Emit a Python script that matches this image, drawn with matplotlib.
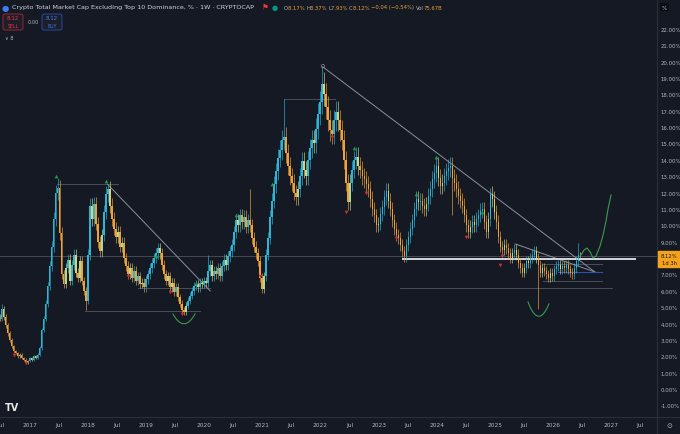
import numpy as np
import matplotlib
matplotlib.use("Agg")
import matplotlib.pyplot as plt
import matplotlib.patches as mpatches
from matplotlib.lines import Line2D

# closes (%), evenly spaced from mid 2016 to mid 2026
closes = [
    4.3, 4.9, 4.4, 3.9, 3.4, 3.0, 2.6, 2.3, 2.2, 2.0,
    2.1, 1.9, 1.8, 1.6, 1.7, 1.9, 1.8, 2.0, 1.9, 2.1,
    2.5, 3.6, 4.3, 5.2, 6.3, 7.5, 8.7, 10.4, 12.0, 12.3,
    9.5, 7.0, 6.4, 7.4, 7.9, 6.6, 7.6, 8.2, 7.1, 6.8,
    7.8, 6.6, 6.0, 5.4, 8.2, 11.2, 10.4, 11.3, 10.1, 9.0,
    8.4, 9.4, 10.8, 11.9, 12.2, 11.2, 10.4, 9.8, 9.3, 9.6,
    8.7, 8.9, 8.0, 7.5, 7.0, 7.4, 6.8, 7.2, 6.6, 6.9,
    6.4, 6.5, 6.2, 6.7, 7.0, 7.4, 7.7, 8.0, 8.3, 8.6,
    8.3, 7.6, 7.0, 6.6, 6.9, 6.2, 6.5, 5.9, 6.2, 5.6,
    5.2, 4.8, 4.7, 5.1, 5.4, 5.7, 6.0, 6.3, 6.4, 6.2,
    6.5, 6.4, 6.6, 6.5, 7.2, 7.6, 6.9, 7.2, 7.0, 7.4,
    6.9, 7.5, 7.9, 7.6, 8.1, 8.4, 8.8, 9.6, 10.3, 10.0,
    10.6, 10.2, 10.5, 9.9, 10.3, 10.0, 9.2, 8.7, 8.3, 7.8,
    6.8, 6.1, 6.9, 8.2, 9.2, 10.5, 11.5, 12.5, 13.3, 14.1,
    14.6, 15.2, 15.4, 14.4, 13.6, 13.0, 12.6, 12.0, 11.7, 12.2,
    13.0, 13.9, 13.4, 13.0, 14.0, 14.7, 15.2, 15.0, 15.9, 16.8,
    17.5, 18.6, 18.0, 17.2, 16.4, 15.8, 15.6, 16.4, 16.9, 16.4,
    15.8, 15.2, 14.0, 12.6, 11.4, 12.6, 13.4, 14.0, 14.2, 13.6,
    13.4, 13.0, 12.8, 12.5, 12.2, 11.6, 11.0, 10.6, 10.0, 10.1,
    10.7, 11.1, 11.7, 12.1, 11.5, 11.0, 10.3, 9.8, 9.4, 9.2,
    8.8, 8.4, 8.1, 8.8, 9.3, 9.8, 10.3, 11.0, 11.6, 11.4,
    11.5, 11.2, 11.0, 11.3, 11.8, 12.2, 12.8, 13.2, 13.6, 12.9,
    12.4, 12.6, 13.0, 13.3, 13.5, 13.6, 12.9, 12.6, 12.2, 11.8,
    11.5, 11.2, 10.6, 10.0, 9.6, 9.9, 10.2, 10.0, 10.4, 10.6,
    10.9, 11.0, 10.2, 9.6, 10.4, 11.9, 11.6, 10.8, 10.2, 9.3,
    8.7, 8.5, 8.8, 8.6, 8.3, 8.0, 8.3, 8.5, 8.2, 7.7,
    7.4, 7.1, 7.4, 7.8, 7.7, 8.0, 8.2, 8.4, 8.0, 7.6,
    7.1, 7.4, 7.2, 7.0, 6.8, 7.1, 6.9, 7.3, 7.5, 7.6,
    7.3, 7.5, 7.4, 7.6, 7.3, 7.1, 7.0, 7.4, 7.8, 8.16,
    8.12,
]
first_year = 2016.48
last_year = 2026.47
first_open = 4.4
last_open = 8.17

# wicks that stick out far from the body
wick_high = {1: 5.2, 29: 12.9, 54: 12.5, 104: 8.2, 125: 12.2, 142: 17.7,
             161: 19.7, 245: 12.3, 289: 8.9, 290: 8.37}
wick_low = {43: 4.8, 226: 10.6, 269: 4.9, 290: 7.93}

# little high / low signals (candle index, value)
green_idx = [28, 53, 78, 98, 118, 136, 177, 208, 218, 241]
green_val = [13.0, 12.7, 8.1, 6.5, 10.6, 12.5, 14.7, 11.9, 14.2, 10.8]
red_idx = [7, 13, 64, 85, 91, 130, 166, 173, 183, 198, 233, 250, 251]
red_val = [2.1, 1.6, 6.9, 5.9, 4.6, 6.9, 15.4, 10.8, 12.0, 9.2, 9.3, 7.6, 8.1]

# drawn lines (year0, value0, year1, value1)
gray_lines = [
    (2017.47, 12.52, 2018.51, 12.52),
    (2017.95, 4.76, 2019.93, 4.76),
    (2018.86, 6.17, 2020.10, 6.17),
    (2021.37, 17.72, 2022.25, 17.72),
    (2023.37, 6.17, 2027.02, 6.17),
    (2025.83, 7.64, 2026.84, 7.64),
    (2025.83, 6.60, 2026.84, 6.60),
]
trend_lines = [
    (2018.33, 12.52, 2020.10, 5.99),
    (2022.04, 19.67, 2026.72, 7.15),
    (2025.35, 8.86, 2026.72, 7.15),
]
blue_line = (2026.09, 7.15, 2026.84, 7.15)
support_line = (2023.42, 7.94, 2027.41, 7.94)

# projected path
proj_years = [2026.47, 2026.535, 2026.586, 2026.638, 2026.69, 2026.741,
              2026.81, 2026.862, 2026.913, 2026.948, 2026.999]
proj_vals = [8.12, 8.49, 8.61, 8.37, 8.0, 8.12, 8.74, 9.41, 10.26, 11.0, 11.85]
arc1_years = [2019.46, 2019.55, 2019.63, 2019.74, 2019.84]
arc1_vals = [4.58, 4.15, 3.97, 4.15, 4.58]
arc2_years = [2025.57, 2025.66, 2025.76, 2025.85, 2025.93]
arc2_vals = [5.31, 4.7, 4.40, 4.7, 5.19]

year_ticks = list(range(2017, 2028))

BG = "#151924"
TXT = "#b2b5be"
W, H = 680, 435


def fx(px):
    return px / W


def fy(py):
    return 1 - py / H


fig = plt.figure(figsize=(6.8, 4.35), dpi=100, facecolor=BG)
ax = fig.add_axes([0, fy(418), fx(657), 418 / H])
ax.set_facecolor(BG)
for s in ax.spines.values():
    s.set_visible(False)
ax.set_xlim(2016.483, 2027.79)
ax.set_ylim(-1.71, 23.82)

# candles
n = len(closes)
xs = np.linspace(first_year, last_year, n)
opens = [first_open] + closes[:-1]
opens[-1] = last_open
step = xs[1] - xs[0]
cols = []
highs, lows = [], []
for i in range(n):
    o, c = opens[i], closes[i]
    ref = closes[max(i - 3, 0)]
    if c >= o:
        col = "#29b6d8" if c >= ref else "#a9d9a4"
    else:
        col = "#e2cf6e" if c >= ref else "#f2a234"
    cols.append(col)
    highs.append(wick_high.get(i, max(o, c) * 1.04))
    lows.append(wick_low.get(i, min(o, c) * 0.96))
bodies = [c - o if abs(c - o) > 0.04 else 0.04 for o, c in zip(opens, closes)]
ax.vlines(xs, lows, highs, colors=cols, lw=0.45, zorder=3)
ax.bar(xs, bodies, bottom=opens, width=step * 0.62, color=cols, lw=0, zorder=4)

# signals
ax.scatter(xs[green_idx], green_val, s=7, marker="^", color="#1f9d4a", lw=0, zorder=5)
ax.scatter(xs[red_idx], red_val, s=7, marker="v", color="#d32f2f", lw=0, zorder=5)
ax.scatter([2022.04], [19.72], s=6, facecolor="none", edgecolor="#8a8d96", lw=0.5, zorder=5)

# drawings
for x0, y0, x1, y1 in gray_lines:
    ax.plot([x0, x1], [y0, y1], color="#4a4e59", lw=0.7, zorder=2)
for x0, y0, x1, y1 in trend_lines:
    ax.plot([x0, x1], [y0, y1], color="#8d9099", lw=0.7, zorder=2)
ax.plot(blue_line[::2], blue_line[1::2], color="#2f4fb0", lw=0.8, zorder=2)
ax.plot(support_line[::2], support_line[1::2], color="#d6d7db", lw=1.4, zorder=2)
ax.axhline(closes[-1], color="#4d515c", lw=0.6, zorder=1)

ax.plot(proj_years, proj_vals, color="#3d9a52", lw=0.8, zorder=5)
for yrs, vals in [(arc1_years, arc1_vals), (arc2_years, arc2_vals)]:
    p = np.polyfit(yrs, vals, 2)
    tt = np.linspace(yrs[0], yrs[-1], 40)
    ax.plot(tt, np.polyval(p, tt), color="#3d9a52", lw=0.8, zorder=5)

# axes
ax.yaxis.tick_right()
ax.set_yticks(range(-1, 23))
ax.set_yticklabels([f"{v:.2f}%" for v in range(-1, 23)])
ax.tick_params(axis="y", length=0, pad=2.5, labelsize=3.9, colors=TXT)
xt, xl = [], []
for y in range(2016, 2028):
    if y in year_ticks:
        xt.append(y)
        xl.append(str(y))
    xt.append(y + 0.496)
    xl.append("Jul")
ax.set_xticks(xt)
ax.set_xticklabels(xl)
ax.tick_params(axis="x", length=0, pad=3.5, labelsize=4.2, colors=TXT)

fig.add_artist(Line2D([0, 1], [fy(418)] * 2, color="#2a2e39", lw=0.8))
fig.add_artist(Line2D([fx(657)] * 2, [0, 1], color="#2a2e39", lw=0.8))

# price label
fig.add_artist(mpatches.Rectangle((fx(658), fy(268)), fx(22), 16 / H,
                                  color="#f4a21c", transform=fig.transFigure, zorder=10))
fig.text(fx(669), fy(256), "8.12%", fontsize=3.8, color="#131722", ha="center", va="center", zorder=11)
fig.text(fx(669), fy(263.5), "1d 3h", fontsize=3.8, color="#131722", ha="center", va="center", zorder=11)

# header
fig.text(fx(2), fy(8), "●", fontsize=6, color="#3d7bf5", va="center")
fig.text(fx(12), fy(8), "Crypto Total Market Cap Excluding Top 10 Dominance, % · 1W · CRYPTOCAP",
         fontsize=4.6, color="#d1d4dc", va="center")
fig.text(fx(262), fy(8), "⚑", fontsize=5.5, color="#f23645", va="center")
fig.text(fx(272), fy(8), "●", fontsize=5, color="#089981", va="center")

renderer = fig.canvas.get_renderer()
x = fx(284)
ORG = "#e3a23a"
for s, c in [("O", TXT), ("8.17% ", ORG), ("H", TXT), ("8.37% ", ORG), ("L", TXT),
             ("7.93% ", ORG), ("C", TXT), ("8.12% ", ORG), ("−0.04 (−0.54%) ", ORG),
             ("Vol", TXT), ("75.67B", ORG)]:
    t = fig.text(x, fy(8), s, fontsize=3.8, color=c, va="center")
    x += t.get_window_extent(renderer=renderer).width / fig.bbox.width

# sell / buy buttons
fig.add_artist(mpatches.FancyBboxPatch((fx(3), fy(31)), fx(20), 16 / H,
                                       boxstyle="round,pad=0,rounding_size=0.004",
                                       fc="#1c1f2a", ec="#b3262f", lw=0.6, transform=fig.transFigure))
fig.text(fx(13), fy(19), "8.12", fontsize=4.0, color="#f23645", ha="center", va="center")
fig.text(fx(13), fy(26.5), "SELL", fontsize=3.3, color="#f23645", ha="center", va="center")
fig.text(fx(33), fy(22.5), "0.00", fontsize=3.6, color=TXT, ha="center", va="center")
fig.add_artist(mpatches.FancyBboxPatch((fx(42), fy(31)), fx(20), 16 / H,
                                       boxstyle="round,pad=0,rounding_size=0.004",
                                       fc="#1c1f2a", ec="#2a4fb8", lw=0.6, transform=fig.transFigure))
fig.text(fx(52), fy(19), "8.12", fontsize=4.0, color="#3d7bf5", ha="center", va="center")
fig.text(fx(52), fy(26.5), "BUY", fontsize=3.3, color="#3d7bf5", ha="center", va="center")
fig.text(fx(5), fy(38), "∨ 8", fontsize=3.6, color=TXT, va="center")

# corner bits
fig.text(fx(662), fy(8), "%", fontsize=4, color=TXT, va="center",
         bbox=dict(boxstyle="square,pad=0.3", fc="#0c0e15", ec="none"))
fig.text(fx(5), fy(408), "TV", fontsize=7, fontweight="bold", color="#e8e8e8", va="center")
fig.text(fx(669), fy(426), "⊙", fontsize=5, color=TXT, ha="center", va="center")

fig.savefig("out.png", dpi=100, facecolor=BG)
